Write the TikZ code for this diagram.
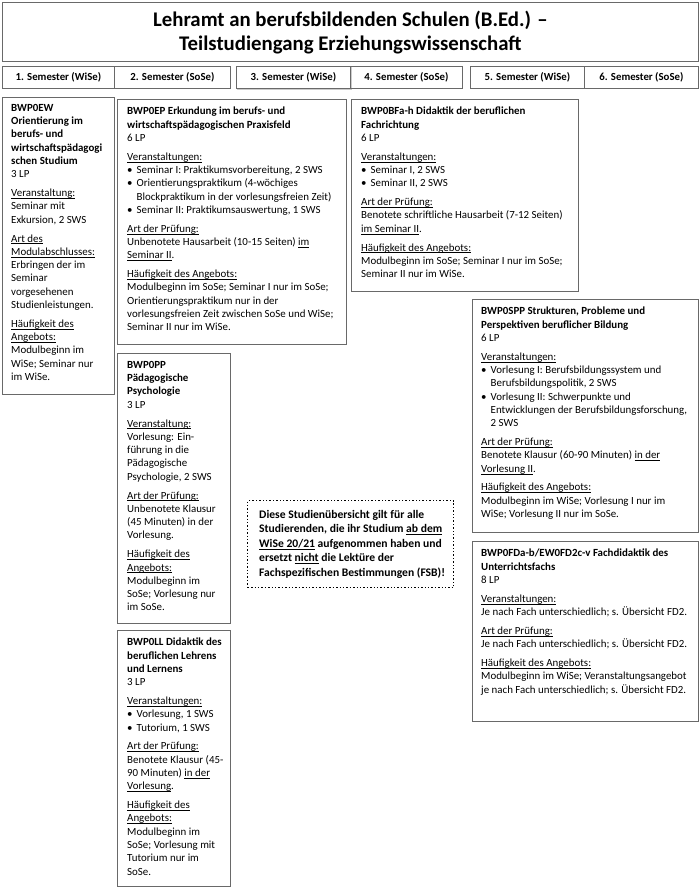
\documentclass[tikz,border=0pt]{standalone}
\usepackage{fontspec}
\setmainfont{Carlito}
\newcommand{\ul}[1]{\setbox0\hbox{#1}\rlap{\rule[-1.9pt]{\wd0}{0.55pt}}\box0\relax}
\newcommand{\bl}{\makebox[9.5pt][l]{\textbullet}}
\newcommand{\ind}{\hspace*{9.5pt}}
\newcommand{\gap}{\\[5.5pt]}
\begin{document}
\begin{tikzpicture}[x=1pt,y=-1pt,
  frame/.style={draw={rgb,255:red,105;green,105;blue,105}, line width=0.8pt, inner sep=0pt, anchor=north west},
  modbox/.style={frame},
  semcell/.style={frame, font=\fontsize{10.8}{12}\selectfont\bfseries, minimum height=22pt},
  txt/.style={anchor=north west, inner sep=0pt, align=left, font=\fontsize{10.9}{13.3}\selectfont},
  note/.style={draw, dotted, line width=1.4pt, inner sep=0pt, anchor=north west}]
\useasboundingbox (0,0) rectangle (700,891);
\fill[white] (0,0) rectangle (700,891);

% title
\node[frame, minimum width=696pt, minimum height=59pt] (title) at (2,2) {};
\node[align=center, font=\fontsize{20.8}{24}\selectfont\bfseries] (titletext) at ([yshift=-1pt]title.center) {Lehramt an berufsbildenden Schulen (B.Ed.) --\\Teilstudiengang Erziehungswissenschaft};

% semesters
\node[semcell, minimum width=112pt] (s1) at (2,66) {1. Semester (WiSe)};
\node[semcell, minimum width=116pt] (s2) at (114,66) {2. Semester (SoSe)};
\draw[gray!40, line width=1.2pt] (237,89.5) -- (351,89.5) -- (351,67);
\node[semcell, minimum width=114pt] (s3) at (236,66) {3. Semester (WiSe)};
\node[semcell, minimum width=112pt] (s4) at (350,66) {4. Semester (SoSe)};
\node[semcell, minimum width=114pt] (s5) at (470,66) {5. Semester (WiSe)};
\node[semcell, minimum width=114pt] (s6) at (584,66) {6. Semester (SoSe)};

% BWP0EW
\node[modbox, minimum width=112pt, minimum height=297pt] (ew) at (2,97) {};
\node[txt] (ewt) at ([xshift=9pt,yshift=-7pt]ew.north west) {\textbf{BWP0EW}\\\textbf{Orientierung im}\\\textbf{berufs- und}\\\textbf{wirtschaftspädagogi}\\\textbf{schen Studium}\\3 LP\gap
\ul{Veranstaltung:}\\Seminar mit\\Exkursion, 2 SWS\gap
\ul{Art des}\\\ul{Modulabschlusses:}\\Erbringen der im\\Seminar\\vorgesehenen\\Studienleistungen.\gap
\ul{Häufigkeit des}\\\ul{Angebots:}\\Modulbeginn im\\WiSe; Seminar nur\\im WiSe.};

% BWP0EP
\node[modbox, minimum width=229pt, minimum height=245pt] (ep) at (117,99) {};
\node[txt] (ept) at ([xshift=10pt,yshift=-8pt]ep.north west) {\textbf{BWP0EP Erkundung im berufs- und}\\\textbf{wirtschaftspädagogischen Praxisfeld}\\6 LP\gap
\ul{Veranstaltungen:}\\\bl Seminar I: Praktikumsvorbereitung, 2 SWS\\\bl Orientierungspraktikum (4-wöchiges\\\ind Blockpraktikum in der vorlesungsfreien Zeit)\\\bl Seminar II: Praktikumsauswertung, 1 SWS\gap
\ul{Art der Prüfung:}\\Unbenotete Hausarbeit (10-15 Seiten) \ul{im}\\\ul{Seminar II}.\gap
\ul{Häufigkeit des Angebots:}\\Modulbeginn im SoSe; Seminar I nur im SoSe;\\Orientierungspraktikum nur in der\\vorlesungsfreien Zeit zwischen SoSe und WiSe;\\Seminar II nur im WiSe.};

% BWP0BFa-h
\node[modbox, minimum width=227pt, minimum height=192pt] (bf) at (351,99) {};
\node[txt] (bft) at ([xshift=10pt,yshift=-8pt]bf.north west) {\textbf{BWP0BFa-h Didaktik der beruflichen}\\\textbf{Fachrichtung}\\6 LP\gap
\ul{Veranstaltungen:}\\\bl Seminar I, 2 SWS\\\bl Seminar II, 2 SWS\gap
\ul{Art der Prüfung:}\\Benotete schriftliche Hausarbeit (7-12 Seiten)\\\ul{im Seminar II}.\gap
\ul{Häufigkeit des Angebots:}\\Modulbeginn im SoSe; Seminar I nur im SoSe;\\Seminar II nur im WiSe.};

% BWP0SPP
\node[modbox, minimum width=226pt, minimum height=233pt] (spp) at (472,299) {};
\node[txt] (sppt) at ([xshift=9pt,yshift=-8pt]spp.north west) {\textbf{BWP0SPP Strukturen, Probleme und}\\\textbf{Perspektiven beruflicher Bildung}\\6 LP\gap
\ul{Veranstaltungen:}\\\bl Vorlesung I: Berufsbildungssystem und\\\ind Berufsbildungspolitik, 2 SWS\\\bl Vorlesung II: Schwerpunkte und\\\ind Entwicklungen der Berufsbildungsforschung,\\\ind 2 SWS\gap
\ul{Art der Prüfung:}\\Benotete Klausur (60-90 Minuten) \ul{in der}\\\ul{Vorlesung II}.\gap
\ul{Häufigkeit des Angebots:}\\Modulbeginn im WiSe; Vorlesung I nur im\\WiSe; Vorlesung II nur im SoSe.};

% BWP0FDa
\node[modbox, minimum width=226pt, minimum height=180pt] (fd) at (472,541) {};
\node[txt] (fdt) at ([xshift=9pt,yshift=-8pt]fd.north west) {\textbf{BWP0FDa-b/EW0FD2c-v Fachdidaktik des}\\\textbf{Unterrichtsfachs}\\8 LP\gap
\ul{Veranstaltungen:}\\Je nach Fach unterschiedlich; s. Übersicht FD2.\gap
\ul{Art der Prüfung:}\\Je nach Fach unterschiedlich; s. Übersicht FD2.\gap
\ul{Häufigkeit des Angebots:}\\Modulbeginn im WiSe; Veranstaltungsangebot\\je nach Fach unterschiedlich; s. Übersicht FD2.};

% BWP0PP
\node[modbox, minimum width=113pt, minimum height=270pt] (pp) at (117,353) {};
\node[txt] (ppt) at ([xshift=10pt,yshift=-8pt]pp.north west) {\textbf{BWP0PP}\\\textbf{Pädagogische}\\\textbf{Psychologie}\\3 LP\gap
\ul{Veranstaltung:}\\Vorlesung: Ein-\\führung in die\\Pädagogische\\Psychologie, 2 SWS\gap
\ul{Art der Prüfung:}\\Unbenotete Klausur\\(45 Minuten) in der\\Vorlesung.\gap
\ul{Häufigkeit des}\\\ul{Angebots:}\\Modulbeginn im\\SoSe; Vorlesung nur\\im SoSe.};

% BWP0LL
\node[modbox, minimum width=113pt, minimum height=256pt] (ll) at (117,630) {};
\node[txt] (llt) at ([xshift=10pt,yshift=-8pt]ll.north west) {\textbf{BWP0LL Didaktik des}\\\textbf{beruflichen Lehrens}\\\textbf{und Lernens}\\3 LP\gap
\ul{Veranstaltungen:}\\\bl Vorlesung, 1 SWS\\\bl Tutorium, 1 SWS\gap
\ul{Art der Prüfung:}\\Benotete Klausur (45-\\90 Minuten) \ul{in der}\\\ul{Vorlesung}.\gap
\ul{Häufigkeit des}\\\ul{Angebots:}\\Modulbeginn im\\SoSe; Vorlesung mit\\Tutorium nur im\\SoSe.};

% notice
\node[note, minimum width=206pt, minimum height=87pt] (nb) at (247,500) {};
\node[txt, font=\fontsize{11.6}{14.5}\selectfont\bfseries] (nbt) at ([xshift=12pt,yshift=-10pt]nb.north west) {Diese Studienübersicht gilt für alle\\Studierenden, die ihr Studium \ul{ab dem}\\\ul{WiSe 20/21} aufgenommen haben und\\ersetzt \ul{nicht} die Lektüre der\\Fachspezifischen Bestimmungen (FSB)!};
\end{tikzpicture}
\end{document}
